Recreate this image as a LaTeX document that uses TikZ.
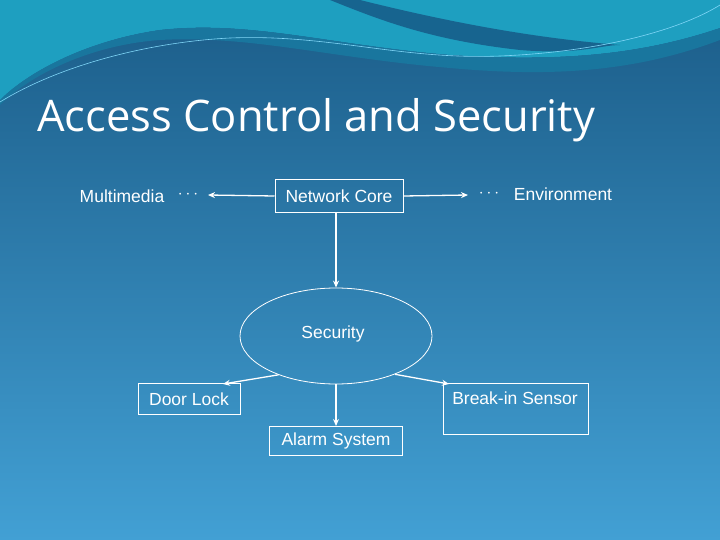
\documentclass[tikz,border=0pt]{standalone}
\usepackage{fontspec}
\setmainfont{Liberation Sans}
\newfontfamily\titlefont{Open Sans}
\usetikzlibrary{shapes.geometric,arrows.meta}
\definecolor{bgtop}{HTML}{1B5C88}
\definecolor{bgbot}{HTML}{42A0D4}
\definecolor{waveA}{HTML}{1E9FC0}
\definecolor{waveB}{HTML}{17648F}
\tikzset{
  box/.style={draw=white, line width=1pt, text=white, font=\fontsize{17.5}{20}\selectfont, inner sep=0pt},
  lbl/.style={text=white, font=\fontsize{17.5}{20}\selectfont, inner sep=0pt},
  conn/.style={draw=white, line width=1.3pt, -{Stealth[length=7pt,width=6pt]}}
}
\begin{document}
\begin{tikzpicture}[x=1pt,y=-1pt]
\useasboundingbox (0,0) rectangle (720,540);
\shade[top color=bgtop, bottom color=bgbot] (0,0) rectangle (720,540);
% top wave
\fill[waveA] (0,0) -- (720,0) -- (720,28) .. controls (640,55) and (560,62) .. (450,55) .. controls (330,45) and (250,20) .. (160,30) .. controls (90,40) and (30,70) .. (0,100) -- cycle;
\fill[waveB] (330,0) .. controls (380,20) and (430,40) .. (520,50) .. controls (580,55) and (600,45) .. (620,45) .. controls (560,40) and (480,30) .. (360,0) -- cycle;
\fill[waveB!70!waveA] (0,100) .. controls (30,70) and (90,40) .. (160,30) .. controls (250,20) and (330,45) .. (450,55) .. controls (560,62) and (640,55) .. (720,28) -- (720,40) .. controls (640,70) and (560,78) .. (450,68) .. controls (330,58) and (250,35) .. (160,40) .. controls (90,45) and (30,75) .. (0,105) -- cycle;
\draw[cyan!50!white, line width=0.6pt] (0,102) .. controls (60,65) and (150,42) .. (230,38) .. controls (330,34) and (400,60) .. (500,56) .. controls (600,52) and (680,30) .. (720,5);
% title
\node[anchor=base west, text=white, inner sep=0pt, font=\titlefont\fontsize{43.5}{50}\selectfont] (title) at (37,132) {Access Control and Security};
% nodes
\node[box, minimum width=128, minimum height=33] (core) at (339,196) {Network Core};
\node[lbl] (mm) at (122,196) {Multimedia};
\node[lbl] (mmdots) at (188,195) {$\cdots$};
\coordinate (mmend) at (208,195);
\node[lbl] (env) at (563,194) {Environment};
\node[lbl] (envdots) at (489,194) {$\cdots$};
\coordinate (envend) at (468,195);
\node[draw=white, line width=0.8pt, ellipse, minimum width=192, minimum height=96] (sec) at (336,336) {};
\node[lbl] (sectext) at (333,334) {Security};
\node[box, minimum width=102, minimum height=31] (door) at (189,399) {Door Lock};
\node[box, minimum width=133, minimum height=29] (alarm) at (336,441) {Alarm System};
\node[box, minimum width=145, minimum height=51] (breakin) at (516,409) {};
\node[lbl] (breaktext) at (515,398) {Break-in Sensor};
% connectors
\draw[conn] (core.south -| sec.north) -- (sec.north);
\draw[conn] (core.west) -- (mmend);
\draw[conn] (core.east) -- (envend);
\draw[conn] (sec.south) -- (alarm.north);
\draw[conn] (sec.214) -- (223,384);
\draw[conn] (sec.-33) -- (449,384);
\end{tikzpicture}
\end{document}
